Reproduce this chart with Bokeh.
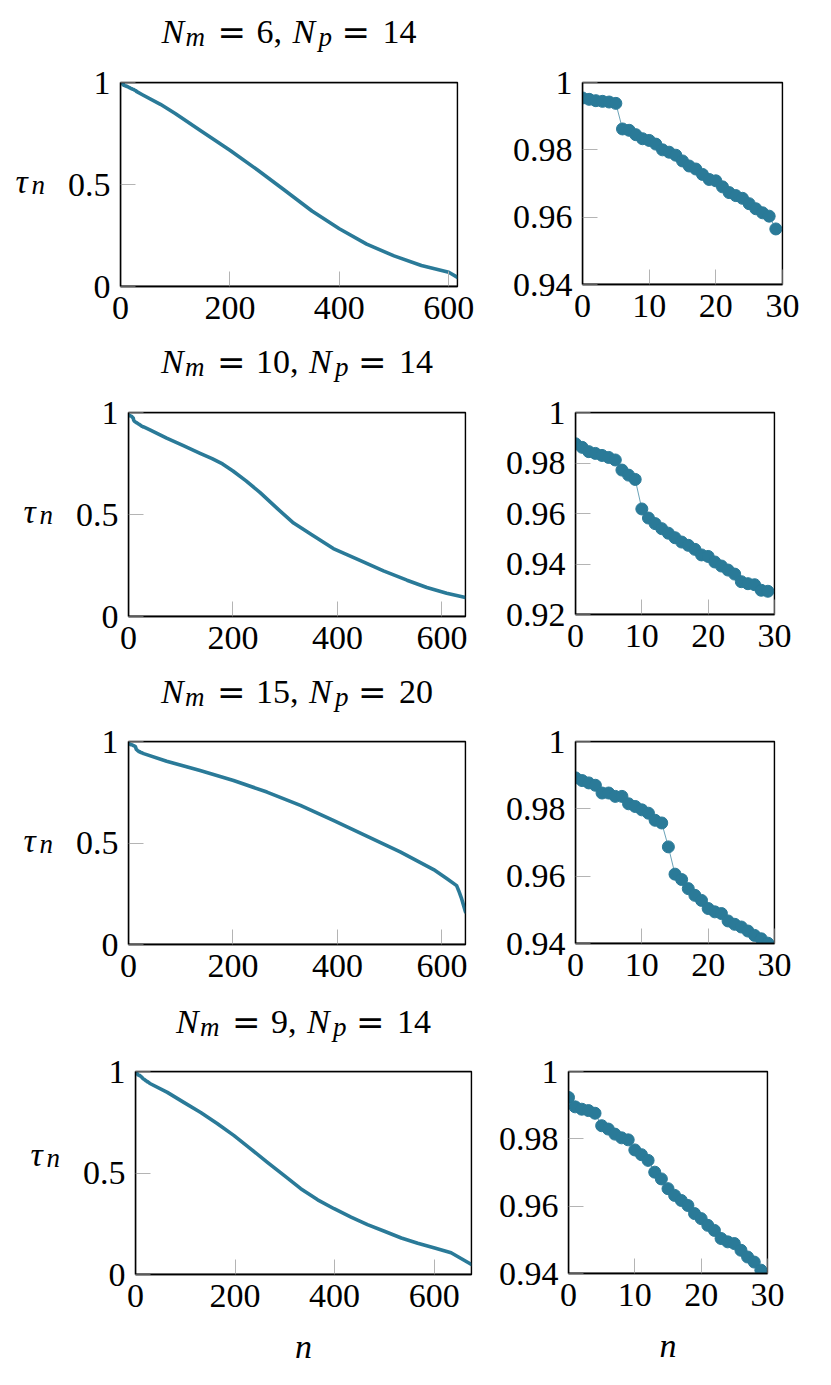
from bokeh.plotting import figure
from bokeh.layouts import column, row
from bokeh.models import Range1d, FixedTicker, PrintfTickFormatter, Label, BoxAnnotation
from bokeh.embed import file_html
from bokeh.resources import INLINE

# ---------------- data ----------------
n_zoom = list(range(30))

tau_zoom_1 = [0.9954, 0.9950, 0.9946, 0.9944, 0.9942, 0.9938, 0.9862, 0.9858, 0.9845, 0.9833,
              0.9828, 0.9817, 0.9800, 0.9793, 0.9784, 0.9767, 0.9752, 0.9743, 0.9727, 0.9712,
              0.9708, 0.9690, 0.9673, 0.9664, 0.9656, 0.9640, 0.9625, 0.9613, 0.9603, 0.9565]
tau_zoom_2 = [0.9876, 0.9862, 0.9845, 0.9838, 0.9830, 0.9822, 0.9812, 0.9772, 0.9752, 0.9735,
              0.9618, 0.9582, 0.9560, 0.9540, 0.9522, 0.9504, 0.9487, 0.9474, 0.9458, 0.9436,
              0.9430, 0.9408, 0.9392, 0.9376, 0.9360, 0.9330, 0.9322, 0.9318, 0.9296, 0.9292]
tau_zoom_3 = [0.9892, 0.9884, 0.9877, 0.9870, 0.9847, 0.9847, 0.9837, 0.9837, 0.9815, 0.9807,
              0.9797, 0.9787, 0.9766, 0.9758, 0.9687, 0.9606, 0.9590, 0.9563, 0.9543, 0.9528,
              0.9504, 0.9494, 0.9489, 0.9467, 0.9457, 0.9449, 0.9437, 0.9424, 0.9414, 0.9401]
tau_zoom_4 = [0.9923, 0.9895, 0.9888, 0.9884, 0.9876, 0.9839, 0.9829, 0.9814, 0.9803, 0.9797,
              0.9767, 0.9753, 0.9736, 0.9701, 0.9681, 0.9652, 0.9632, 0.9617, 0.9602, 0.9578,
              0.9563, 0.9543, 0.9528, 0.9504, 0.9494, 0.9489, 0.9469, 0.9449, 0.9434, 0.9410]

# remaining part of each full curve (n >= 30)
n_tail_1 = [40, 73, 100, 146, 200, 250, 300, 350, 400, 450, 500, 550, 600, 616]
tau_tail_1 = [0.940, 0.893, 0.848, 0.765, 0.668, 0.572, 0.472, 0.370, 0.283, 0.208, 0.150, 0.103, 0.070, 0.045]
n_tail_2 = [41, 73, 105, 137, 160, 180, 200, 225, 252, 284, 316, 350, 392, 443, 488, 533, 571, 609, 645]
tau_tail_2 = [0.915, 0.874, 0.838, 0.800, 0.774, 0.748, 0.713, 0.665, 0.607, 0.531, 0.458, 0.402, 0.333,
              0.275, 0.224, 0.178, 0.142, 0.114, 0.093]
n_tail_3 = [73, 137, 201, 265, 329, 392, 456, 520, 584, 609, 628, 632, 637, 645]
tau_tail_3 = [0.903, 0.857, 0.808, 0.751, 0.685, 0.611, 0.534, 0.456, 0.369, 0.325, 0.290, 0.265, 0.230, 0.160]
n_tail_4 = [64, 97, 131, 164, 198, 232, 265, 299, 332, 366, 399, 433, 466, 500, 534, 567, 601, 634, 661, 675]
tau_tail_4 = [0.897, 0.848, 0.798, 0.744, 0.684, 0.618, 0.552, 0.487, 0.423, 0.368, 0.324, 0.283, 0.246,
              0.213, 0.180, 0.154, 0.131, 0.107, 0.069, 0.049]

titles = [("6", "14"), ("10", "14"), ("15", "20"), ("9", "14")]
left_xticks = [0, 200, 400, 600]
left_yticks = [0, 0.5, 1]
zoom_xticks = [0, 10, 20, 30]
zoom_yticks = [[0.94, 0.96, 0.98, 1.0], [0.92, 0.94, 0.96, 0.98, 1.0],
               [0.94, 0.96, 0.98, 1.0], [0.94, 0.96, 0.98, 1.0]]

zooms = [tau_zoom_1, tau_zoom_2, tau_zoom_3, tau_zoom_4]
tails = [(n_tail_1, tau_tail_1), (n_tail_2, tau_tail_2), (n_tail_3, tau_tail_3), (n_tail_4, tau_tail_4)]

# ---------------- styling / geometry (page pixels) ----------------
FONT = "Liberation Serif"
EQFONT = "DejaVu Serif"
COLOR = "#2a7a98"
TICK = "#b4b4b4"
FS = "34px"
SUB = "27px"
DIGIT = 17

TOTAL_W = 825
TAU_W = 60
TITLE_TOP = [0, 330, 660, 990]
PLOT_BOTTOM = [330, 660, 990, 1370]
LEFT_FRAME = [(120, 81, 337, 204), (128, 411, 337, 204), (128, 741, 337, 203), (135, 1071, 336, 203)]
RIGHT_FRAME = [(582, 82, 200, 202), (575, 412, 199, 202), (575, 741, 199, 202), (568, 1071, 199, 202)]
SPLIT = [500, 495, 495, 488]


def text_fig(w, h):
    p = figure(width=w, height=h, x_range=Range1d(0, w), y_range=Range1d(0, h),
               min_border=0, min_border_left=0, min_border_right=0, min_border_top=0, min_border_bottom=0,
               x_axis_type=None, y_axis_type=None, output_backend="svg", toolbar_location=None)
    p.outline_line_color = None
    p.background_fill_color = "white"
    p.border_fill_color = "white"
    return p


def put(p, x, y, text, style="normal", size=FS, font=FONT, align="left"):
    p.add_layout(Label(x=x, y=y, text=text, text_font=font, text_font_style=style,
                       text_font_size=size, text_baseline="alphabetic", text_align=align,
                       text_color="black"))


def make_fig(fig_left, fig_right, fig_top, fig_bottom, frame, xr, yr, xticks, yticks):
    fx, fy, fw, fh = frame
    p = figure(frame_width=fw, frame_height=fh,
               min_border_left=fx - fig_left, min_border_right=fig_right - (fx + fw),
               min_border_top=fy - fig_top, min_border_bottom=fig_bottom - (fy + fh),
               x_range=Range1d(*xr), y_range=Range1d(*yr),
               output_backend="svg", toolbar_location=None)
    p.xgrid.visible = False
    p.ygrid.visible = False
    p.outline_line_color = "black"
    p.outline_line_width = 1.3
    p.background_fill_color = "white"
    p.border_fill_color = "white"
    p.xaxis.ticker = FixedTicker(ticks=xticks)
    p.yaxis.ticker = FixedTicker(ticks=yticks)
    for ax in (p.xaxis[0], p.yaxis[0]):
        ax.formatter = PrintfTickFormatter(format="%g")
        ax.major_tick_in = 15
        ax.major_tick_out = 0
        ax.minor_tick_in = 0
        ax.minor_tick_out = 0
        ax.major_tick_line_color = TICK
        ax.major_tick_line_width = 1
        ax.axis_line_color = "black"
        ax.axis_line_width = 1.3
        ax.major_label_text_font = FONT
        ax.major_label_text_font_size = FS
        ax.major_label_text_color = "black"
    p.xaxis.major_label_standoff = 10
    p.yaxis.major_label_standoff = 10
    p.add_layout(BoxAnnotation(left=xr[0], right=xr[1], bottom=yr[0], top=yr[1],
                               fill_alpha=0, line_color="black", line_width=1.3, line_alpha=1))
    return p


blocks = []
for i in range(4):
    zoom = zooms[i]
    n_tail, tau_tail = tails[i]
    n_full = n_zoom + n_tail
    tau_full = zoom + tau_tail
    lf = LEFT_FRAME[i]
    rf = RIGHT_FRAME[i]
    plot_top = lf[1] - 20

    # ---- title strip ----
    th = plot_top - TITLE_TOP[i]
    tf = text_fig(TOTAL_W, th)
    v1, v2 = titles[i]
    pieces = []
    x = 0
    pieces.append((x, "N", "italic", FS, 0, FONT)); x += 24
    pieces.append((x, "m", "italic", SUB, 5, FONT)); x += 32
    pieces.append((x, "=", "normal", FS, 0, EQFONT)); x += 39
    pieces.append((x, v1 + ",", "normal", FS, 0, FONT)); x += DIGIT * len(v1) + 19
    pieces.append((x, "N", "italic", FS, 0, FONT)); x += 26
    pieces.append((x, "p", "italic", SUB, 5, FONT)); x += 23
    pieces.append((x, "=", "normal", FS, 0, EQFONT)); x += 41
    pieces.append((x, v2, "normal", FS, 0, FONT)); x += DIGIT * len(v2)
    start = lf[0] + lf[2] / 2 - x / 2
    base_page = lf[1] - 50
    for dx, t, st, size, dy, font in pieces:
        put(tf, start + dx, th - (base_page + dy - TITLE_TOP[i]), t, st, size, font)
    blocks.append(tf)

    # ---- tau_n strip ----
    ph = PLOT_BOTTOM[i] - plot_top
    yf = text_fig(TAU_W, ph)
    ty_page = lf[1] + lf[3] / 2 + 10
    put(yf, lf[0] - 105, ph - (ty_page - plot_top), "τ", "italic", FS)
    put(yf, lf[0] - 89, ph - (ty_page + 5 - plot_top), "n", "italic", SUB)

    # ---- left: full curve ----
    xr_l = (0, n_full[-1])
    pl = make_fig(TAU_W, SPLIT[i], plot_top, PLOT_BOTTOM[i], lf, xr_l, (0, 1), left_xticks, left_yticks)
    pl.line(n_full, tau_full, line_width=3.6, line_color=COLOR, line_join="round", line_cap="round")

    # ---- right: zoom on first 30 ----
    yr_r = (zoom_yticks[i][0], zoom_yticks[i][-1])
    pr = make_fig(SPLIT[i], TOTAL_W, plot_top, PLOT_BOTTOM[i], rf, (0, 30), yr_r, zoom_xticks, zoom_yticks[i])
    pr.line(n_zoom, zoom, line_width=0.7, line_color=COLOR)
    pr.scatter(n_zoom, zoom, size=12, fill_color=COLOR, line_color=COLOR)

    if i == 3:
        for p in (pl, pr):
            p.xaxis.axis_label = "n"
            p.xaxis.axis_label_text_font = FONT
            p.xaxis.axis_label_text_font_style = "italic"
            p.xaxis.axis_label_text_font_size = FS
            p.xaxis.axis_label_text_color = "black"
            p.xaxis.axis_label_standoff = 18

    blocks.append(row(yf, pl, pr))

layout = column(*blocks)
open("out.html", "w").write(file_html(layout, INLINE))
